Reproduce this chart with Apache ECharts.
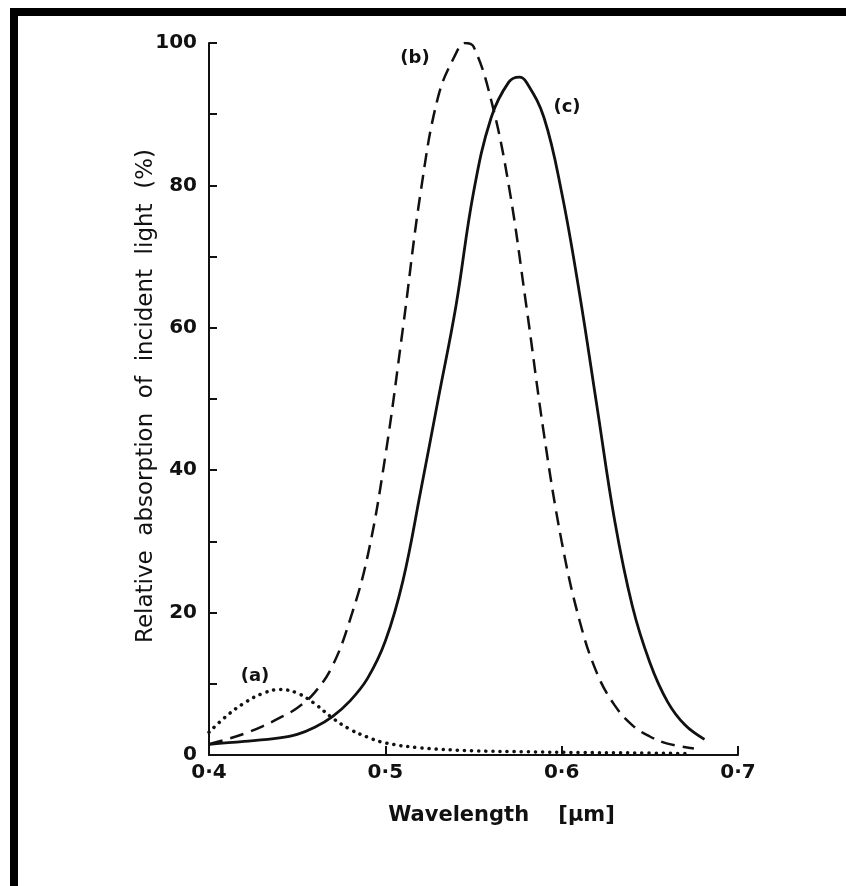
<!DOCTYPE html>
<html><head><meta charset="utf-8">
<script src="https://cdn.jsdelivr.net/npm/echarts@6/dist/echarts.min.js"></script>
<style>html,body{margin:0;padding:0;background:#fff}#c{width:846px;height:886px}</style>
</head><body><div id="c"></div>
<script>
// Curve (a) dotted
const aX = [0.40, 0.41, 0.42, 0.43, 0.44, 0.45, 0.46, 0.47, 0.48, 0.49, 0.50, 0.52, 0.55, 0.58, 0.61, 0.64, 0.67];
const aY = [3.2, 5.5, 7.3, 8.6, 9.2, 8.7, 7.2, 5.2, 3.6, 2.5, 1.7, 1.0, 0.6, 0.45, 0.35, 0.3, 0.2];
// Curve (b) dashed
const bX = [0.40, 0.41, 0.42, 0.43, 0.44, 0.45, 0.46, 0.47, 0.48, 0.49, 0.50, 0.51, 0.52, 0.53, 0.54, 0.545, 0.55, 0.56, 0.57, 0.58, 0.59, 0.60, 0.61, 0.62, 0.63, 0.64, 0.65, 0.66, 0.675];
const bY = [1.5, 2.2, 3.0, 4.0, 5.2, 6.6, 8.8, 12.5, 19, 28, 42, 60, 79, 92.5, 98.5, 100, 99.5, 92, 80, 63, 45, 30, 19, 11.5, 7, 4.2, 2.6, 1.6, 0.9];
// Curve (c) solid
const cX = [0.40, 0.42, 0.44, 0.45, 0.46, 0.47, 0.48, 0.49, 0.50, 0.51, 0.52, 0.53, 0.54, 0.55, 0.56, 0.57, 0.576, 0.58, 0.59, 0.60, 0.61, 0.62, 0.63, 0.64, 0.65, 0.66, 0.67, 0.681];
const cY = [1.5, 1.9, 2.4, 2.9, 3.9, 5.4, 7.6, 10.8, 16, 24.5, 37, 50, 63, 79, 89.5, 94.5, 95.2, 94.5, 89.5, 79, 65, 49, 33, 21, 13, 7.5, 4.2, 2.2];
const xTicks = [0.4, 0.5, 0.6, 0.7];
const yLabels = [0, 20, 40, 60, 80, 100];
const curveLabels = ['(a)', '(b)', '(c)'];
const yTitle = 'Relative  absorption  of  incident  light  (%)';

const zip = (xs, ys) => xs.map((x, i) => [x, ys[i]]);
const chart = echarts.init(document.getElementById('c'), null, {renderer: 'canvas'});
const ink = '#111';
const tickFont = {fontFamily: 'DejaVu Sans', fontWeight: 'bold', fontSize: 20, color: ink};

chart.setOption({
  backgroundColor: '#fff',
  animation: false,
  grid: {left: 209, right: 108, top: 43, bottom: 131, containLabel: false},
  xAxis: {
    type: 'value', min: 0.4, max: 0.7, interval: 0.1,
    name: 'Wavelength    [µm]', nameLocation: 'middle', nameGap: 50,
    nameTextStyle: {fontFamily: 'DejaVu Sans', fontWeight: 'bold', fontSize: 21, color: ink, padding: [0, 0, 0, 56]},
    axisLine: {lineStyle: {color: ink, width: 2}},
    axisTick: {inside: true, length: 9, lineStyle: {color: ink, width: 2}},
    axisLabel: Object.assign({margin: 8, formatter: v => (xTicks.some(t => Math.abs(t - v) < 1e-6) ? v.toFixed(1).replace('.', '·') : '')}, tickFont),
    splitLine: {show: false}
  },
  yAxis: {
    type: 'value', min: 0, max: 100, interval: 10,
    axisLine: {lineStyle: {color: ink, width: 2}},
    axisTick: {inside: true, length: 8, lineStyle: {color: ink, width: 2}},
    axisLabel: Object.assign({margin: 12, formatter: v => (yLabels.indexOf(v) >= 0 ? String(v) : '')}, tickFont),
    splitLine: {show: false}
  },
  series: [
    {name: curveLabels[0], type: 'line', data: zip(aX, aY), smooth: 0.4, symbol: 'none',
     lineStyle: {color: ink, width: 3.5, type: [0.1, 7], cap: 'round'}},
    {name: curveLabels[1], type: 'line', data: zip(bX, bY), smooth: 0.4, symbol: 'none',
     lineStyle: {color: ink, width: 2.5, type: [14, 8]}},
    {name: curveLabels[2], type: 'line', data: zip(cX, cY), smooth: 0.4, symbol: 'none',
     lineStyle: {color: ink, width: 2.8}}
  ],
  graphic: [
    {type: 'rect', shape: {x: 10, y: 8, width: 836, height: 8}, style: {fill: '#000'}},
    {type: 'rect', shape: {x: 10, y: 8, width: 8, height: 878}, style: {fill: '#000'}},
    {type: 'text', x: 146, y: 396, rotation: Math.PI / 2, style: {text: yTitle, fontFamily: 'DejaVu Sans', fontSize: 23, fill: ink, align: 'center', verticalAlign: 'middle'}},
    {type: 'text', x: 255, y: 676, style: {text: curveLabels[0], fontFamily: 'DejaVu Sans', fontWeight: 'bold', fontSize: 18, fill: ink, align: 'center', verticalAlign: 'middle'}},
    {type: 'text', x: 415, y: 58, style: {text: curveLabels[1], fontFamily: 'DejaVu Sans', fontWeight: 'bold', fontSize: 18, fill: ink, align: 'center', verticalAlign: 'middle'}},
    {type: 'text', x: 567, y: 107, style: {text: curveLabels[2], fontFamily: 'DejaVu Sans', fontWeight: 'bold', fontSize: 18, fill: ink, align: 'center', verticalAlign: 'middle'}}
  ]
});
</script></body></html>
